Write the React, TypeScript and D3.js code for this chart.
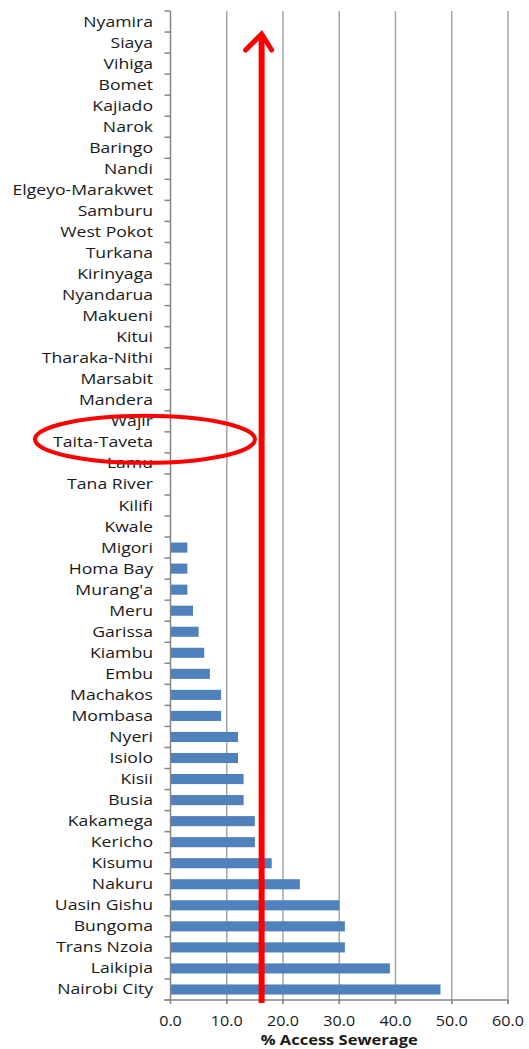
import React from "react";
import * as d3 from "d3";

// counties, top of chart first
const counties = [
  "Nyamira", "Siaya", "Vihiga", "Bomet", "Kajiado", "Narok", "Baringo", "Nandi",
  "Elgeyo-Marakwet", "Samburu", "West Pokot", "Turkana", "Kirinyaga", "Nyandarua",
  "Makueni", "Kitui", "Tharaka-Nithi", "Marsabit", "Mandera", "Wajir", "Taita-Taveta",
  "Lamu", "Tana River", "Kilifi", "Kwale", "Migori", "Homa Bay", "Murang'a", "Meru",
  "Garissa", "Kiambu", "Embu", "Machakos", "Mombasa", "Nyeri", "Isiolo", "Kisii",
  "Busia", "Kakamega", "Kericho", "Kisumu", "Nakuru", "Uasin Gishu", "Bungoma",
  "Trans Nzoia", "Laikipia", "Nairobi City",
];
const sewerage = [
  0, 0, 0, 0, 0, 0, 0, 0,
  0, 0, 0, 0, 0, 0,
  0, 0, 0, 0, 0, 0, 0,
  0, 0, 0, 0, 3, 3, 3, 4,
  5, 6, 7, 9, 9, 12, 12, 13,
  13, 15, 15, 18, 23, 30, 31,
  31, 39, 48,
];
const xTicks = [0, 10, 20, 30, 40, 50, 60];
const arrowValue = 16.2;
const highlighted = "Taita-Taveta";

const W = 529;
const H = 1049;
const left = 170.5;
const right = 508;
const top = 11;
const bottom = 1000;
const font = "'Open Sans', 'DejaVu Sans', sans-serif";

export default function App() {
  const x = d3.scaleLinear().domain([0, 60]).range([left, right]);
  const y = d3.scaleBand<string>().domain(counties).range([top, bottom]).paddingInner(0.52).paddingOuter(0.26);
  const bounds = d3.range(counties.length + 1).map((i) => top + i * ((bottom - top) / counties.length));

  const ax = x(arrowValue);
  const hy = (y(highlighted) ?? 0) + y.bandwidth() / 2 - 3;

  return (
    <svg width={W} height={H} style={{ position: "absolute", left: 0, top: 0, background: "#fff" }} fontFamily={font}>
      {/* grid */}
      {xTicks.slice(1).map((t) => (
        <line key={t} x1={x(t)} x2={x(t)} y1={top} y2={bottom + 4} stroke="#a6a6a6" strokeWidth={1.5} />
      ))}
      {/* bars */}
      {counties.map((c, i) =>
        sewerage[i] > 0 ? (
          <rect key={c} x={x(0)} y={y(c)} width={x(sewerage[i]) - x(0)} height={y.bandwidth()} fill="#4f81bd" />
        ) : null
      )}
      {/* y axis */}
      <line x1={left} x2={left} y1={top} y2={bottom} stroke="#868686" strokeWidth={1.5} />
      {bounds.map((b, i) => (
        <line key={i} x1={left - 6} x2={left} y1={b} y2={b} stroke="#868686" strokeWidth={1.5} />
      ))}
      {/* x axis */}
      <line x1={left - 6} x2={right} y1={bottom} y2={bottom} stroke="#868686" strokeWidth={1.5} />
      {xTicks.map((t) => (
        <g key={t}>
          <line x1={x(t)} x2={x(t)} y1={bottom} y2={bottom + 4} stroke="#868686" strokeWidth={1.5} />
          <text transform={`translate(${x(t)},${bottom + 26}) scale(1.15,1)`} textAnchor="middle" fontSize={14} fill="#1a1a1a">
            {d3.format(".1f")(t)}
          </text>
        </g>
      ))}
      <text transform={`translate(${(left + right) / 2},1045) scale(1.18,1)`} textAnchor="middle" fontSize={14} fontWeight="bold" fill="#1a1a1a">
        % Access Sewerage
      </text>
      {/* category labels */}
      {counties.map((c) => (
        <text key={c} transform={`translate(153,${(y(c) ?? 0) + y.bandwidth() / 2 + 5}) scale(1.26,1)`} textAnchor="end" fontSize={14} fill="#1a1a1a">
          {c}
        </text>
      ))}
      {/* annotations */}
      <line x1={ax} x2={ax} y1={bottom + 3} y2={34} stroke="#ff0000" strokeWidth={6} />
      <polyline
        points={`${ax - 16},${50} ${ax},${34} ${ax + 10},${50}`}
        fill="none" stroke="#ff0000" strokeWidth={5} strokeLinecap="round" strokeLinejoin="miter"
      />
      <ellipse cx={145} cy={hy} rx={110} ry={23.5} fill="none" stroke="#ff0000" strokeWidth={4} />
    </svg>
  );
}
